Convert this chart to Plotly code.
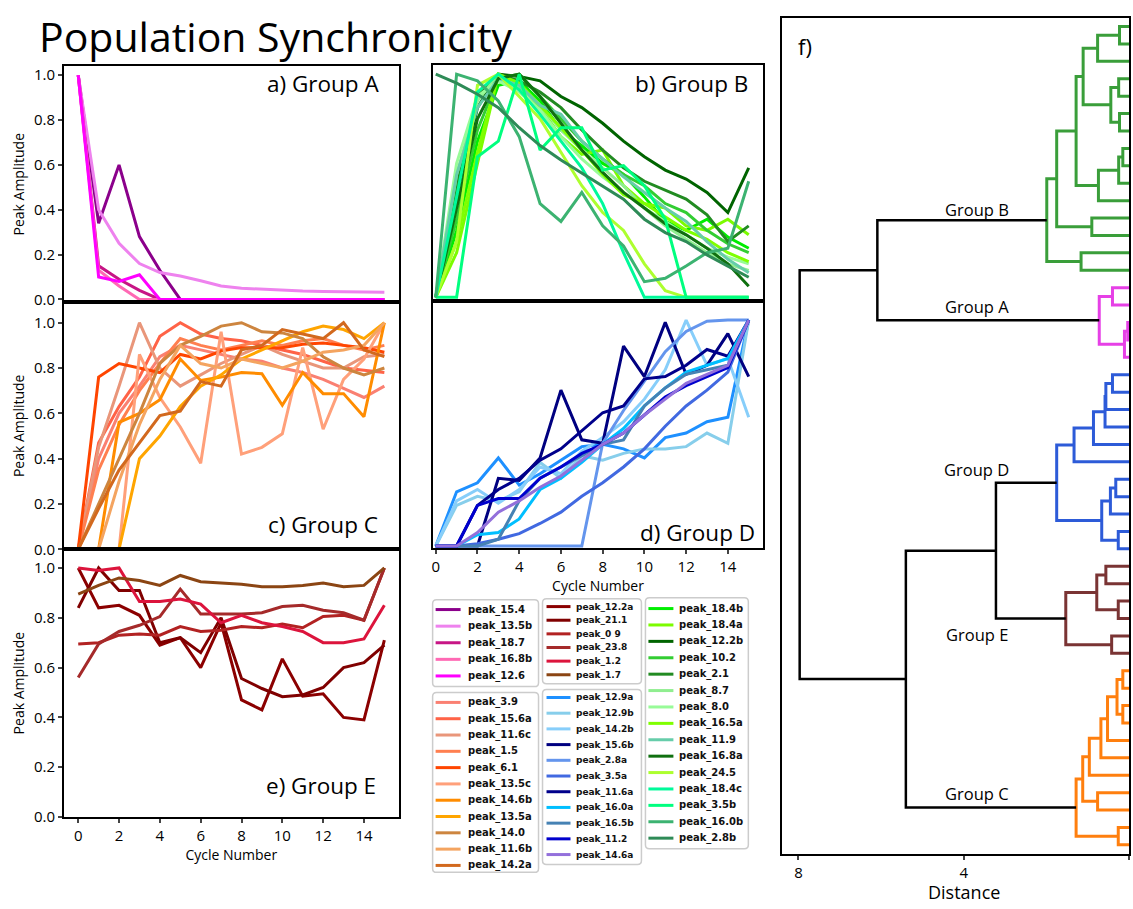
import plotly.graph_objects as go

W, H = 1133, 909
cycles = list(range(16))

# ---------------- Group A ----------------
namesA = ["peak_15.4", "peak_13.5b", "peak_18.7", "peak_16.8b", "peak_12.6"]
colorsA = ["#8b008b", "#ee82ee", "#c71585", "#ff69b4", "#ff00ff"]
valuesA = [
    [1.0, 0.34, 0.60, 0.28, 0.13, 0, 0, 0, 0, 0, 0, 0, 0, 0, 0, 0],
    [1.0, 0.40, 0.25, 0.16, 0.12, 0.104, 0.083, 0.06, 0.05, 0.045, 0.04, 0.037, 0.035, 0.033, 0.032, 0.032],
    [1.0, 0.15, 0.09, 0.04, 0, 0, 0, 0, 0, 0, 0, 0, 0, 0, 0, 0],
    [1.0, 0.13, 0.06, 0, 0, 0, 0, 0, 0, 0, 0, 0, 0, 0, 0, 0],
    [1.0, 0.10, 0.08, 0.11, 0, 0, 0, 0, 0, 0, 0, 0, 0, 0, 0, 0],
]

# ---------------- Group B ----------------
namesB = ["peak_18.4b", "peak_18.4a", "peak_12.2b", "peak_10.2", "peak_2.1", "peak_8.7",
          "peak_8.0", "peak_16.5a", "peak_11.9", "peak_16.8a", "peak_24.5", "peak_18.4c",
          "peak_3.5b", "peak_16.0b", "peak_2.8b"]
colorsB = ["#00ee00", "#7cfc00", "#006400", "#32cd32", "#228b22", "#90ee90",
           "#98fb98", "#7fff00", "#66cdaa", "#107010", "#adff2f", "#00fa9a",
           "#00ff7f", "#3cb371", "#2e8b57"]
valuesB = [
    [0, 0.30, 0.70, 0.95, 0.97, 0.88, 0.75, 0.68, 0.60, 0.55, 0.45, 0.34, 0.30, 0.35, 0.27, 0.22],
    [0, 0.20, 0.60, 1.0, 0.95, 0.85, 0.72, 0.64, 0.66, 0.50, 0.42, 0.40, 0.32, 0.30, 0.35, 0.28],
    [0, 0.45, 0.85, 1.0, 0.99, 0.97, 0.90, 0.85, 0.78, 0.70, 0.63, 0.57, 0.53, 0.47, 0.38, 0.58],
    [0, 0.35, 0.75, 0.98, 1.0, 0.90, 0.80, 0.70, 0.62, 0.55, 0.50, 0.42, 0.38, 0.30, 0.24, 0.20],
    [0, 0.50, 0.90, 1.0, 0.97, 0.92, 0.85, 0.75, 0.66, 0.58, 0.52, 0.48, 0.44, 0.37, 0.25, 0.32],
    [0, 0.55, 0.88, 1.0, 0.94, 0.86, 0.75, 0.66, 0.58, 0.50, 0.40, 0.32, 0.26, 0.20, 0.15, 0.12],
    [0, 0.60, 0.90, 0.97, 0.92, 0.84, 0.72, 0.62, 0.54, 0.47, 0.40, 0.34, 0.28, 0.22, 0.18, 0.15],
    [0, 0.25, 0.65, 1.0, 0.96, 0.86, 0.76, 0.66, 0.55, 0.46, 0.42, 0.36, 0.30, 0.26, 0.20, 0.16],
    [0, 0.55, 0.85, 0.98, 0.95, 0.86, 0.82, 0.70, 0.62, 0.54, 0.47, 0.40, 0.34, 0.25, 0.17, 0.11],
    [0, 0.40, 0.80, 0.98, 1.0, 0.90, 0.78, 0.66, 0.56, 0.47, 0.40, 0.33, 0.28, 0.22, 0.15, 0.05],
    [0, 0.25, 0.95, 1.0, 0.90, 0.80, 0.65, 0.50, 0.38, 0.30, 0.15, 0.03, 0, 0, 0, 0],
    [0, 0.45, 0.92, 1.0, 0.93, 0.82, 0.70, 0.58, 0.42, 0.20, 0, 0, 0, 0, 0, 0],
    [0, 0, 0.63, 0.70, 1.0, 0.66, 0.76, 0.76, 0.57, 0.59, 0.50, 0.35, 0, 0, 0, 0],
    [0, 1.0, 0.97, 0.88, 0.72, 0.42, 0.34, 0.47, 0.32, 0.23, 0.07, 0.085, 0.14, 0.20, 0.22, 0.52],
    [1.0, 0.96, 0.91, 0.85, 0.76, 0.68, 0.615, 0.556, 0.50, 0.44, 0.35, 0.29, 0.25, 0.19, 0.14, 0.09],
]

# ---------------- Group C ----------------
namesC = ["peak_3.9", "peak_15.6a", "peak_11.6c", "peak_1.5", "peak_6.1", "peak_13.5c",
          "peak_14.6b", "peak_13.5a", "peak_14.0", "peak_11.6b", "peak_14.2a"]
colorsC = ["#fa8072", "#ff6347", "#e9967a", "#ff7f50", "#ff4500", "#ffa07a",
           "#ff8c00", "#ffa500", "#cd853f", "#f4a460", "#d2691e"]
valuesC = [
    [0, 0.40, 0.60, 0.72, 0.85, 0.90, 0.88, 0.86, 0.84, 0.83, 0.80, 0.78, 0.75, 0.71, 0.67, 0.72],
    [0, 0.47, 0.63, 0.76, 0.94, 1.0, 0.95, 0.93, 0.92, 0.90, 0.88, 0.86, 0.83, 0.80, 0.79, 0.78],
    [0, 0.45, 0.72, 1.0, 0.80, 0.72, 0.77, 0.82, 0.86, 0.90, 0.86, 0.83, 0.80, 0.80, 0.85, 0.86],
    [0, 0.35, 0.55, 0.70, 0.82, 0.93, 0.90, 0.88, 0.90, 0.92, 0.90, 0.92, 0.93, 0.90, 0.88, 0.90],
    [0, 0.76, 0.82, 0.80, 0.78, 0.86, 0.84, 0.875, 0.89, 0.89, 0.89, 0.905, 0.91, 0.90, 0.89, 0.87],
    [0, 0, 0, 0.86, 0.67, 0.54, 0.38, 0.96, 0.42, 0.45, 0.51, 0.89, 0.53, 0.75, 0.84, 1.0],
    [0, 0, 0.56, 0.60, 0.66, 0.84, 0.745, 0.76, 0.78, 0.775, 0.636, 0.78, 0.687, 0.687, 0.585, 1.0],
    [0, 0, 0, 0.40, 0.50, 0.63, 0.72, 0.77, 0.84, 0.88, 0.92, 0.96, 0.985, 0.97, 0.93, 1.0],
    [0, 0.20, 0.40, 0.60, 0.82, 0.90, 0.94, 0.985, 1.0, 0.96, 0.955, 0.93, 0.85, 0.80, 0.77, 0.80],
    [0, 0, 0.30, 0.55, 0.75, 0.90, 0.82, 0.80, 0.84, 0.82, 0.80, 0.83, 0.87, 0.88, 0.90, 1.0],
    [0, 0.18, 0.35, 0.47, 0.59, 0.61, 0.74, 0.72, 0.88, 0.90, 0.97, 0.95, 0.93, 1.0, 0.88, 0.85],
]

# ---------------- Group D ----------------
namesD = ["peak_12.9a", "peak_12.9b", "peak_14.2b", "peak_15.6b", "peak_2.8a", "peak_3.5a",
          "peak_11.6a", "peak_16.0a", "peak_16.5b", "peak_11.2", "peak_14.6a"]
colorsD = ["#1e90ff", "#87ceeb", "#87cefa", "#000080", "#6495ed", "#4169e1",
           "#00008b", "#00bfff", "#4682b4", "#0000cd", "#9370db"]
valuesD = [
    [0, 0.24, 0.28, 0.39, 0.27, 0.32, 0.38, 0.44, 0.45, 0.43, 0.39, 0.48, 0.50, 0.55, 0.57, 1.0],
    [0, 0.18, 0.22, 0.20, 0.24, 0.37, 0.30, 0.40, 0.38, 0.41, 0.43, 0.43, 0.44, 0.50, 0.455, 1.0],
    [0, 0.20, 0.25, 0.19, 0.25, 0.35, 0.32, 0.42, 0.48, 0.55, 0.65, 0.78, 1.0, 0.80, 0.83, 0.57],
    [0, 0, 0, 0.30, 0.29, 0.39, 0.69, 0.47, 0.455, 0.885, 0.75, 0.99, 0.76, 0.80, 0.94, 0.75],
    [0, 0, 0, 0, 0, 0, 0, 0, 0.455, 0.60, 0.73, 0.86, 0.95, 0.995, 1.0, 1.0],
    [0, 0, 0.01, 0.03, 0.055, 0.10, 0.15, 0.22, 0.28, 0.35, 0.43, 0.53, 0.62, 0.69, 0.77, 1.0],
    [0, 0, 0.18, 0.25, 0.30, 0.38, 0.43, 0.51, 0.59, 0.62, 0.74, 0.75, 0.80, 0.87, 0.84, 1.0],
    [0, 0, 0.05, 0.06, 0.12, 0.25, 0.30, 0.37, 0.45, 0.52, 0.62, 0.70, 0.77, 0.80, 0.83, 1.0],
    [0, 0, 0, 0.03, 0.20, 0.30, 0.35, 0.40, 0.45, 0.47, 0.62, 0.70, 0.76, 0.78, 0.80, 1.0],
    [0, 0, 0.18, 0.21, 0.21, 0.30, 0.35, 0.41, 0.45, 0.50, 0.58, 0.66, 0.71, 0.75, 0.79, 1.0],
    [0, 0, 0.06, 0.15, 0.20, 0.26, 0.31, 0.38, 0.45, 0.50, 0.58, 0.65, 0.72, 0.76, 0.80, 1.0],
]

# ---------------- Group E ----------------
namesE = ["peak_12.2a", "peak_21.1", "peak_0 9", "peak_23.8", "peak_1.2", "peak_1.7"]
colorsE = ["#8b0000", "#800000", "#b22222", "#a52a2a", "#dc143c", "#8b4513"]
valuesE = [
    [1.0, 0.84, 0.85, 0.81, 0.69, 0.72, 0.60, 0.78, 0.47, 0.43, 0.635, 0.485, 0.495, 0.40, 0.39, 0.71],
    [0.84, 1.0, 0.91, 0.91, 0.70, 0.72, 0.66, 0.80, 0.556, 0.516, 0.483, 0.49, 0.52, 0.60, 0.62, 0.69],
    [0.695, 0.70, 0.73, 0.735, 0.73, 0.765, 0.745, 0.75, 0.765, 0.76, 0.775, 0.76, 0.805, 0.81, 0.79, 1.0],
    [0.56, 0.695, 0.745, 0.77, 0.805, 0.915, 0.815, 0.815, 0.815, 0.82, 0.845, 0.85, 0.83, 0.82, 0.79, 1.0],
    [1.0, 0.99, 1.0, 0.865, 0.865, 0.875, 0.855, 0.78, 0.81, 0.78, 0.765, 0.745, 0.70, 0.70, 0.715, 0.85],
    [0.895, 0.93, 0.96, 0.95, 0.93, 0.97, 0.945, 0.94, 0.935, 0.925, 0.925, 0.93, 0.94, 0.925, 0.93, 1.0],
]

# ---------------- Dendrogram (leaves 0..47 listed top to bottom) ----------------
# each link: [left id, right id, distance]; ids >= 48 refer to earlier links
links = [
    [0, 1, 0.23], [48, 2, 0.76], [3, 4, 0.25], [5, 6, 0.23], [50, 51, 0.44], [49, 52, 1.11],
    [7, 8, 0.15], [54, 9, 0.25], [55, 10, 0.74], [53, 56, 1.28], [11, 12, 0.90], [57, 58, 1.75],
    [13, 14, 1.16], [59, 60, 1.99],                                   # Group B  (48-61)
    [15, 16, 0.40], [17, 18, 0.03], [63, 19, 0.11], [62, 64, 0.72],   # Group A  (62-65)
    [20, 21, 0.40], [66, 22, 0.56], [67, 23, 0.58], [68, 24, 0.86], [69, 25, 1.33],
    [26, 27, 0.32], [71, 28, 0.45], [29, 30, 0.26], [72, 73, 0.66], [70, 74, 1.75],  # Group D (66-75)
    [31, 32, 0.56], [33, 34, 0.26], [76, 77, 0.78], [35, 36, 0.42], [78, 79, 1.53],  # Group E (76-80)
    [37, 38, 0.15], [39, 40, 0.15], [81, 82, 0.29], [83, 41, 0.52], [84, 42, 0.68],
    [85, 43, 0.96], [44, 45, 0.76], [86, 87, 1.12], [46, 47, 0.26], [88, 89, 1.28],  # Group C (81-90)
    [61, 65, 6.09], [75, 80, 3.22], [92, 90, 5.40], [91, 93, 7.97],   # above-threshold (black)
]
link_group = ["B"] * 14 + ["A"] * 4 + ["D"] * 10 + ["E"] * 5 + ["C"] * 10 + ["top"] * 4
group_roots = {"Group B": 61, "Group A": 65, "Group D": 75, "Group E": 80, "Group C": 90}
dendro_colors = {"B": "#3a9e3a", "A": "#e640e6", "D": "#2d5bd8", "E": "#7a3434",
                 "C": "#ff7f0e", "top": "#000000"}
n_leaves = 48


def pxx(x):
    return x / W


def pyy(y):
    return 1 - y / H


fig = go.Figure()

# panel geometry in pixels: (x0, x1, y_top, y_bottom)
panels = {
    "a": dict(ax="x", ay="y", box=(63, 398, 65, 304), xr=[-0.7, 15.7], yr=[-0.013, 1.04]),
    "c": dict(ax="x3", ay="y3", box=(63, 398, 304, 554), xr=[-0.7, 15.7], yr=[0, 1.09]),
    "e": dict(ax="x5", ay="y5", box=(63, 398, 554, 825), xr=[-0.7, 15.7], yr=[0, 1.075]),
    "b": dict(ax="x2", ay="y2", box=(432, 763, 64, 303), xr=[-0.15, 15.7], yr=[-0.018, 1.04]),
    "d": dict(ax="x4", ay="y4", box=(432, 763, 303, 553), xr=[-0.15, 15.7], yr=[-0.01, 1.083]),
}
groups = {"a": (namesA, colorsA, valuesA), "b": (namesB, colorsB, valuesB),
          "c": (namesC, colorsC, valuesC), "d": (namesD, colorsD, valuesD),
          "e": (namesE, colorsE, valuesE)}

for key, (names, cols, vals) in groups.items():
    p = panels[key]
    for n, c, v in zip(names, cols, vals):
        fig.add_trace(go.Scatter(x=cycles, y=v, mode="lines", name=n,
                                 line=dict(color=c, width=3),
                                 xaxis=p["ax"], yaxis=p["ay"], showlegend=False))

# dendrogram coordinates
pos = [5 + 10 * k for k in range(n_leaves)]
hgt = [0.0] * n_leaves
seg = {}
for (l, r, h), g in zip(links, link_group):
    xs = [hgt[l], h, h, hgt[r], None]
    ys = [pos[l], pos[l], pos[r], pos[r], None]
    seg.setdefault(g, ([], []))
    seg[g][0].extend(xs)
    seg[g][1].extend(ys)
    pos.append((pos[l] + pos[r]) / 2)
    hgt.append(h)

for g in ["B", "A", "D", "E", "C", "top"]:
    fig.add_trace(go.Scatter(x=seg[g][0], y=seg[g][1], mode="lines",
                             line=dict(color=dendro_colors[g], width=2.5 if g == "top" else 3),
                             xaxis="x6", yaxis="y6", showlegend=False, hoverinfo="skip"))

tickfont = dict(family="Open Sans", size=15, color="black")
layout = dict(width=W, height=H, autosize=False, margin=dict(l=0, r=0, t=0, b=0),
              plot_bgcolor="white", paper_bgcolor="white", showlegend=False,
              font=dict(family="Open Sans", color="black"))

for key, p in panels.items():
    x0, x1, yt, yb = p["box"]
    xname = "xaxis" + p["ax"][1:]
    yname = "yaxis" + p["ay"][1:]
    show_x = key in ("d", "e")
    show_y = key in ("a", "c", "e")
    layout[xname] = dict(domain=[pxx(x0), pxx(x1)], range=p["xr"], anchor=p["ay"],
                         showgrid=False, zeroline=False, showline=True, mirror=True,
                         linecolor="black", linewidth=1.6,
                         ticks="outside" if show_x else "", ticklen=4, tickwidth=1.5,
                         tickvals=list(range(0, 16, 2)) if show_x else [],
                         showticklabels=show_x, tickfont=tickfont,
                         title=dict(text="Cycle Number" if show_x else "",
                                    font=dict(size=14), standoff=2))
    layout[yname] = dict(domain=[pyy(yb), pyy(yt)], range=p["yr"], anchor=p["ax"],
                         showgrid=False, zeroline=False, showline=True, mirror=True,
                         linecolor="black", linewidth=1.6,
                         ticks="outside" if show_y else "", ticklen=4, tickwidth=1.5,
                         tickvals=[0, 0.2, 0.4, 0.6, 0.8, 1.0] if show_y else [],
                         tickformat=".1f", showticklabels=show_y, tickfont=tickfont,
                         title=dict(text="Peak Amplitude" if show_y else "",
                                    font=dict(size=14), standoff=6))

layout["xaxis6"] = dict(domain=[pxx(782), pxx(1129)], range=[8.39, 0], anchor="y6",
                        showgrid=False, zeroline=False, showline=True, mirror=True,
                        linecolor="black", linewidth=2, ticks="outside", ticklen=4,
                        tickwidth=1.5, tickvals=[8, 4, 0], tickfont=dict(size=15))
layout["yaxis6"] = dict(domain=[pyy(862), pyy(16)], range=[480, 0], anchor="x6",
                        showgrid=False, zeroline=False, showline=True, mirror=True,
                        linecolor="black", linewidth=2, ticks="", showticklabels=False)

annotations = []
# title
annotations.append(dict(text="Population Synchronicity", x=pxx(36), y=pyy(34),
                        xref="paper", yref="paper", xanchor="left", yanchor="middle",
                        showarrow=False, font=dict(size=41, family="Open Sans")))
# panel labels
panel_labels = [("a) Group A", 380, 82), ("b) Group B", 750, 82), ("c) Group C", 379, 529),
                ("d) Group D", 757, 537), ("e) Group E", 377, 793)]
for t, x, y in panel_labels:
    annotations.append(dict(text=t, x=pxx(x), y=pyy(y), xref="paper", yref="paper",
                            xanchor="right", yanchor="middle", showarrow=False,
                            font=dict(size=22.5)))
annotations.append(dict(text="f)", x=pxx(796), y=pyy(45), xref="paper", yref="paper",
                        xanchor="left", yanchor="middle", showarrow=False,
                        font=dict(size=22)))
# dendrogram axis title
annotations.append(dict(text="Distance", x=4, y=pyy(901), xref="x6", yref="paper",
                        xanchor="center", yanchor="middle", showarrow=False,
                        borderpad=0, font=dict(size=18)))
# dendrogram group labels
label_shift = {"Group B": 11, "Group A": 14, "Group D": 13, "Group E": -16, "Group C": 14}
for name, node in group_roots.items():
    annotations.append(dict(text=name, x=3.68, y=pos[node], xref="x6", yref="y6",
                            xanchor="center", yanchor="middle", yshift=label_shift[name],
                            showarrow=False, font=dict(size=16.5)))

# legends (drawn as boxes + line samples + text)
shapes = []


def rounded_box(x0, y0, x1, y1, r=4):
    X0, X1 = pxx(x0), pxx(x1)
    Y0, Y1 = pyy(y0), pyy(y1)
    rx, ry = r / W, r / H
    return (f"M {X0 + rx},{Y0} L {X1 - rx},{Y0} Q {X1},{Y0} {X1},{Y0 - ry} "
            f"L {X1},{Y1 + ry} Q {X1},{Y1} {X1 - rx},{Y1} L {X0 + rx},{Y1} "
            f"Q {X0},{Y1} {X0},{Y1 + ry} L {X0},{Y0 - ry} Q {X0},{Y0} {X0 + rx},{Y0} Z")


legend_boxes = [
    (namesA, colorsA, (432, 605, 538, 693), 615, 16.8, 435, 460, 465, 10),
    (namesC, colorsC, (432, 699, 538, 881), 709, 16.5, 435, 460, 465, 10),
    (namesE, colorsE, (542, 604, 641, 690), 612, 13.8, 546, 570, 574, 9),
    (namesD, colorsD, (542, 696, 641, 873), 704, 15.9, 546, 570, 574, 9),
    (namesB, colorsB, (645, 603, 748, 857), 614, 16.6, 648, 673, 677, 10),
]
for names, cols, box, y0, dy, lx0, lx1, tx, fs in legend_boxes:
    shapes.append(dict(type="path", path=rounded_box(*box), xref="paper", yref="paper",
                       line=dict(color="#cccccc", width=1.5), fillcolor="white", layer="below"))
    for i, (n, c) in enumerate(zip(names, cols)):
        yy = y0 + dy * i
        shapes.append(dict(type="line", xref="paper", yref="paper",
                           x0=pxx(lx0), x1=pxx(lx1), y0=pyy(yy), y1=pyy(yy),
                           line=dict(color=c, width=3)))
        annotations.append(dict(text=n, x=pxx(tx), y=pyy(yy), xref="paper", yref="paper",
                                xanchor="left", yanchor="middle", showarrow=False,
                                font=dict(family="DejaVu Sans", size=fs, weight="bold",
                                          color="#111111")))

layout["annotations"] = annotations
layout["shapes"] = shapes
fig.update_layout(**layout)
fig.write_html(
    "out.html", config={"displayModeBar": False, "responsive": False},
    post_script=("document.documentElement.style.margin='0px';"
                 "document.body.style.margin='0px';"
                 "document.documentElement.style.overflow='hidden';"
                 "document.body.style.overflow='hidden';"))
